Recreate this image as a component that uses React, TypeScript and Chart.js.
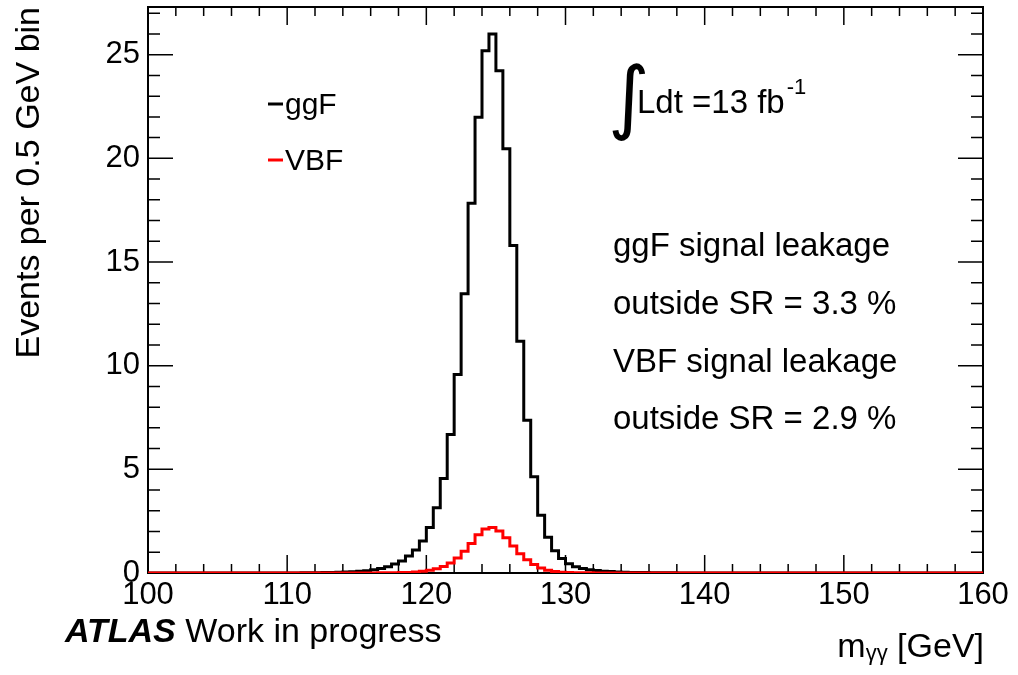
import React, { useEffect, useRef } from 'react';
import { Chart, registerables } from 'chart.js';

Chart.register(...registerables);

// Histogram binning: 120 bins of 0.5 GeV from 100 to 160 GeV
const binLow = 100;
const binWidth = 0.5;

// ggF signal, events per 0.5 GeV bin (bin i covers [100+0.5i, 100.5+0.5i])
const ggfValues = [
  0, 0, 0, 0, 0, 0, 0, 0, 0, 0,
  0, 0, 0, 0, 0, 0.001, 0.002, 0.002, 0.003, 0.004,
  0.005, 0.006, 0.008, 0.01, 0.015, 0.02, 0.025, 0.035, 0.045, 0.06,
  0.08, 0.11, 0.16, 0.22, 0.3, 0.43, 0.58, 0.82, 1.11, 1.54,
  2.2, 3.15, 4.56, 6.68, 9.57, 13.47, 17.84, 21.98, 25.19, 26.0,
  24.23, 20.46, 15.8, 11.18, 7.37, 4.64, 2.79, 1.72, 1.07, 0.7,
  0.45, 0.3, 0.22, 0.16, 0.12, 0.09, 0.07, 0.05, 0.04, 0.03,
  0.025, 0.02, 0.015, 0.012, 0.01, 0.008, 0.006, 0.005, 0.004, 0.003,
  0.002, 0.002, 0.001, 0, 0, 0, 0, 0, 0, 0,
  0, 0, 0, 0, 0, 0, 0, 0, 0, 0,
  0, 0, 0, 0, 0, 0, 0, 0, 0, 0,
  0, 0, 0, 0, 0, 0, 0, 0, 0, 0,
];

// VBF signal, events per 0.5 GeV bin
const vbfValues = [
  0, 0, 0, 0, 0, 0, 0, 0, 0, 0,
  0, 0, 0, 0, 0, 0, 0, 0, 0, 0,
  0, 0, 0, 0, 0, 0, 0, 0, 0, 0.001,
  0.002, 0.003, 0.005, 0.007, 0.01, 0.015, 0.02, 0.03, 0.05, 0.08,
  0.13, 0.2, 0.31, 0.48, 0.72, 1.05, 1.42, 1.84, 2.12, 2.2,
  2.02, 1.7, 1.3, 0.93, 0.64, 0.41, 0.24, 0.13, 0.07, 0.04,
  0.025, 0.015, 0.01, 0.007, 0.005, 0.003, 0.002, 0.001, 0, 0,
  0, 0, 0, 0, 0, 0, 0, 0, 0, 0,
  0, 0, 0, 0, 0, 0, 0, 0, 0, 0,
  0, 0, 0, 0, 0, 0, 0, 0, 0, 0,
  0, 0, 0, 0, 0, 0, 0, 0, 0, 0,
  0, 0, 0, 0, 0, 0, 0, 0, 0, 0,
];

const seriesLabels = ['ggF', 'VBF'];
const seriesColors = ['#000000', '#ff0000'];

const xMin = 100;
const xMax = 160;
const xMajorStep = 10;
const xMinorStep = 2;
const yMin = 0;
const yMax = 27.3;
const yMajorStep = 5;
const yMinorStep = 1;

const yTitle = 'Events per 0.5 GeV bin';
const xTitleMain = 'm';
const xTitleSub = 'γγ';
const xTitleUnit = ' [GeV]';
const atlasBold = 'ATLAS';
const atlasRest = ' Work in progress';
const lumiText = 'Ldt =13 fb';
const lumiExp = '-1';
const infoLines = [
  'ggF signal leakage',
  'outside SR = 3.3 %',
  'VBF signal leakage',
  'outside SR = 2.9 %',
];

const FONT = "'Liberation Sans', Arial, Helvetica, sans-serif";

function toPoints(values: number[]) {
  const pts = values.map((v, i) => ({ x: binLow + i * binWidth, y: v }));
  pts.push({ x: binLow + values.length * binWidth, y: values[values.length - 1] });
  return pts;
}

const framePlugin = {
  id: 'frameTicks',
  beforeDatasetsDraw(chart: any) {
    const { ctx, chartArea: a, scales } = chart;
    const xs = scales.x;
    const ys = scales.y;
    ctx.save();
    ctx.strokeStyle = '#000';
    ctx.lineWidth = 1.5;
    ctx.beginPath();
    for (let v = xMin; v <= xMax + 1e-9; v += xMinorStep) {
      const px = xs.getPixelForValue(v);
      const major = Math.abs(v / xMajorStep - Math.round(v / xMajorStep)) < 1e-6;
      const len = major ? 18 : 9;
      ctx.moveTo(px, a.bottom);
      ctx.lineTo(px, a.bottom - len);
      ctx.moveTo(px, a.top);
      ctx.lineTo(px, a.top + len);
    }
    for (let v = yMin; v <= yMax + 1e-9; v += yMinorStep) {
      const py = ys.getPixelForValue(v);
      const major = Math.abs(v / yMajorStep - Math.round(v / yMajorStep)) < 1e-6;
      const len = major ? 25 : 12;
      ctx.moveTo(a.left, py);
      ctx.lineTo(a.left + len, py);
      ctx.moveTo(a.right, py);
      ctx.lineTo(a.right - len, py);
    }
    ctx.stroke();
    ctx.lineWidth = 2;
    ctx.strokeRect(a.left, a.top, a.right - a.left, a.bottom - a.top);
    ctx.restore();
  },
  afterDraw(chart: any) {
    const { ctx } = chart;
    ctx.save();
    ctx.fillStyle = '#000';
    ctx.textBaseline = 'alphabetic';
    ctx.textAlign = 'left';

    // Legend
    const legendY = [104, 160];
    chart.data.datasets.forEach((ds: any, i: number) => {
      ctx.strokeStyle = ds.borderColor;
      ctx.lineWidth = 3;
      ctx.beginPath();
      ctx.moveTo(268, legendY[i]);
      ctx.lineTo(283, legendY[i]);
      ctx.stroke();
      ctx.fillStyle = '#000';
      ctx.font = `30px ${FONT}`;
      ctx.fillText(ds.label, 285, legendY[i] + 10);
    });

    // Luminosity
    ctx.font = `80px 'DejaVu Sans', sans-serif`;
    ctx.fillText('∫', 608, 124);
    ctx.font = `33px ${FONT}`;
    ctx.fillText(lumiText, 637, 113);
    const lw = ctx.measureText(lumiText).width;
    ctx.font = `22px ${FONT}`;
    ctx.fillText(lumiExp, 637 + lw + 2, 94);

    // Info lines
    ctx.font = `33px ${FONT}`;
    const infoY = [256, 314, 372, 429];
    infoLines.forEach((t, i) => ctx.fillText(t, 613, infoY[i]));

    // ATLAS label
    ctx.font = `italic bold 34px ${FONT}`;
    ctx.fillText(atlasBold, 65, 642);
    const aw = ctx.measureText(atlasBold).width;
    ctx.font = `34px ${FONT}`;
    ctx.fillText(atlasRest, 65 + aw, 642);

    // X axis title (right aligned)
    ctx.font = `34px ${FONT}`;
    const wm = ctx.measureText(xTitleMain).width;
    const wu = ctx.measureText(xTitleUnit).width;
    ctx.font = `22px ${FONT}`;
    const ws = ctx.measureText(xTitleSub).width;
    const right = 984;
    const start = right - wm - ws - wu;
    const base = 657;
    ctx.font = `34px ${FONT}`;
    ctx.fillText(xTitleMain, start, base);
    ctx.font = `22px ${FONT}`;
    ctx.fillText(xTitleSub, start + wm, base + 3);
    ctx.font = `34px ${FONT}`;
    ctx.fillText(xTitleUnit, start + wm + ws, base);

    ctx.restore();
  },
};

export default function App() {
  const canvasRef = useRef<HTMLCanvasElement | null>(null);

  useEffect(() => {
    const canvas = canvasRef.current;
    if (!canvas) return;
    const chart = new Chart(canvas, {
      type: 'line',
      data: {
        datasets: [
          {
            label: seriesLabels[0],
            data: toPoints(ggfValues),
            borderColor: seriesColors[0],
            borderWidth: 3,
            stepped: 'before',
            pointRadius: 0,
            fill: false,
            order: 2,
          },
          {
            label: seriesLabels[1],
            data: toPoints(vbfValues),
            borderColor: seriesColors[1],
            borderWidth: 3,
            stepped: 'before',
            pointRadius: 0,
            fill: false,
            order: 1,
          },
        ],
      },
      options: {
        responsive: false,
        animation: false,
        devicePixelRatio: 1,
        layout: { padding: { left: 0, top: 7, right: 35, bottom: 0 } },
        plugins: {
          legend: { display: false },
          tooltip: { enabled: false },
        },
        elements: { point: { radius: 0 } },
        scales: {
          x: {
            type: 'linear',
            min: xMin,
            max: xMax,
            border: { display: false },
            grid: { display: false, drawTicks: false },
            ticks: {
              stepSize: xMajorStep,
              autoSkip: false,
              maxRotation: 0,
              includeBounds: false,
              color: '#000',
              font: { family: FONT, size: 31 },
              padding: 4,
            },
            afterFit: (s: any) => {
              s.height = 102;
              s.paddingLeft = 0;
              s.paddingRight = 0;
            },
          },
          y: {
            type: 'linear',
            min: yMin,
            max: yMax,
            border: { display: false },
            grid: { display: false, drawTicks: false },
            ticks: {
              stepSize: yMajorStep,
              autoSkip: false,
              includeBounds: false,
              color: '#000',
              font: { family: FONT, size: 31 },
              padding: 8,
            },
            title: {
              display: true,
              text: yTitle,
              align: 'end',
              color: '#000',
              font: { family: FONT, size: 34 },
              padding: { top: 9, bottom: 0 },
            },
            afterFit: (s: any) => {
              s.width = 148;
              s.paddingTop = 0;
              s.paddingBottom = 0;
            },
          },
        },
      },
      plugins: [framePlugin],
    } as any);
    return () => chart.destroy();
  }, []);

  return (
    <div style={{ position: 'absolute', left: 0, top: 0, width: 1018, height: 675, background: '#fff' }}>
      <canvas ref={canvasRef} width={1018} height={675} style={{ display: 'block' }} />
    </div>
  );
}
